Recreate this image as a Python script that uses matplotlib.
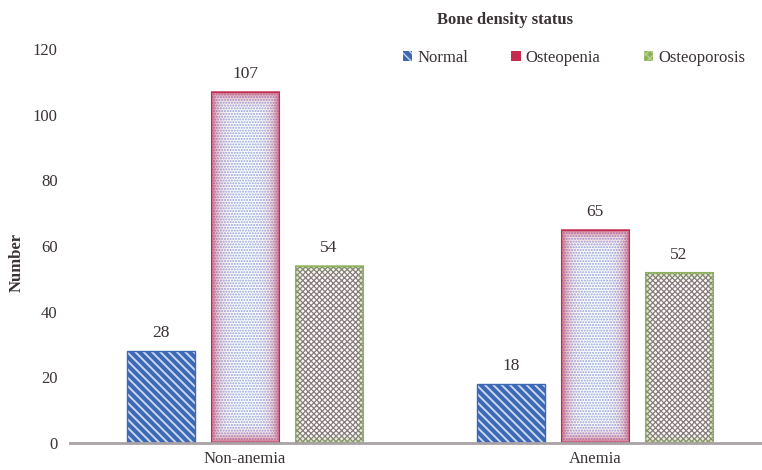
import numpy as np
import matplotlib
matplotlib.use("Agg")
import matplotlib.pyplot as plt
from matplotlib.patches import Patch

plt.rcParams['font.family'] = ['Liberation Serif', 'DejaVu Serif']

# data
groups = ["Non-anemia", "Anemia"]
statuses = ["Normal", "Osteopenia", "Osteoporosis"]
normal = [28, 18]
osteopenia = [107, 65]
osteoporosis = [54, 52]
yticks = [0, 20, 40, 60, 80, 100, 120]

TEXT = '#3a3234'
BLUE = '#3c68b4'
STRIPE = '#c9d7f0'
RED = '#c42c4f'
GREEN = '#8cb257'
DOT = '#8fa6dc'
CROSS = '#877a7d'

W, H, DPI = 762, 470, 100
fig = plt.figure(figsize=(W / DPI, H / DPI), dpi=DPI)
ax_left, ax_right = 70 / W, 770 / W
ax_bot, ax_top = (H - 443) / H, (H - 49) / H
ax = fig.add_axes([ax_left, ax_bot, ax_right - ax_left, ax_top - ax_bot])

x = np.arange(len(groups))
bw = 0.197
step = 0.24
px_per_x = 700 / 2.0
px_per_y = 394 / 120.0


def hatched_bar(ax, xc, h, face, hcolor, hatch, hlw):
    with plt.rc_context({'hatch.linewidth': hlw}):
        bars = ax.bar(xc, h, bw, color=face, edgecolor=hcolor, hatch=hatch,
                      linewidth=0, zorder=2)
    for b in bars:
        if hasattr(b, 'set_hatch_linewidth'):
            b.set_hatch_linewidth(hlw)
    return bars


def edge_glow(ax, x0, width, height, color, fade_px, strength=0.9):
    """Soft coloured rim fading inwards from the bar outline."""
    nx, ny = 120, 240
    wpx = width * px_per_x
    hpx = height * px_per_y
    u = (np.arange(nx) + 0.5) / nx * wpx
    v = (np.arange(ny) + 0.5) / ny * hpx
    dx = np.minimum(u, wpx - u)[None, :]
    dy = np.minimum(v, hpx - v)[:, None]
    d = np.minimum(dx, dy)
    a = strength * np.exp(-d / fade_px)
    rgb = matplotlib.colors.to_rgb(color)
    img = np.zeros((ny, nx, 4))
    img[..., :3] = rgb
    img[..., 3] = a
    ax.imshow(img, extent=[x0, x0 + width, 0, height], aspect='auto',
              interpolation='bilinear', zorder=3, origin='lower')


for i in range(len(groups)):
    # Normal: blue with fine light diagonal stripes
    xn = x[i] - step
    hatched_bar(ax, xn, normal[i], BLUE, STRIPE, '\\\\\\\\', 1.4)
    ax.bar(xn, normal[i], bw, fill=False, edgecolor=BLUE, linewidth=1.0, zorder=4)

    # Osteopenia: white with blue dots and red rim
    xo = x[i]
    hatched_bar(ax, xo, osteopenia[i], 'white', DOT, '......', 1.0)
    edge_glow(ax, xo - bw / 2, bw, osteopenia[i], RED, 6.0, 0.8)
    ax.bar(xo, osteopenia[i], bw, fill=False, edgecolor=RED, linewidth=0.8, zorder=4)

    # Osteoporosis: grey cross-hatch with green rim
    xp = x[i] + step
    hatched_bar(ax, xp, osteoporosis[i], 'white', CROSS, 'xxxxxx', 0.9)
    edge_glow(ax, xp - bw / 2, bw, osteoporosis[i], GREEN, 3.0, 0.8)
    ax.bar(xp, osteoporosis[i], bw, fill=False, edgecolor=GREEN, linewidth=0.8, zorder=4)

    for xx, vv in [(xn, normal[i]), (xo, osteopenia[i]), (xp, osteoporosis[i])]:
        ax.annotate(str(vv), (xx, vv), xytext=(0, 7), textcoords='offset points',
                    ha='center', va='bottom', fontsize=12.5, color=TEXT)

ax.set_xlim(-0.5, 1.5)
ax.set_ylim(0, 120)
ax.set_yticks(yticks)
ax.set_xticks(x)
ax.set_xticklabels(groups)
ax.tick_params(axis='both', length=0, labelsize=12, colors=TEXT)
ax.tick_params(axis='y', pad=9)
ax.tick_params(axis='x', pad=6)
for s in ['top', 'right', 'left']:
    ax.spines[s].set_visible(False)
ax.spines['bottom'].set_color('#a9a2a5')
ax.spines['bottom'].set_linewidth(2.0)
ax.spines['bottom'].set_zorder(5)

fig.text(17 / W, 1 - 262 / H, 'Number', rotation=90, ha='center', va='center',
         fontsize=12, fontweight='bold', color=TEXT)

fig.text(505 / W, 1 - 20 / H, 'Bone density status', ha='center', va='center',
         fontsize=12, fontweight='bold', color=TEXT)

with plt.rc_context({'hatch.linewidth': 1.4}):
    handles = [
        Patch(facecolor=BLUE, edgecolor=STRIPE, hatch='\\\\\\\\', linewidth=0),
        Patch(facecolor=RED, edgecolor=RED, linewidth=0),
        Patch(facecolor=GREEN, edgecolor='#b7cf92', hatch='xxxx', linewidth=0),
    ]
leg = fig.legend(handles, statuses, loc='center', bbox_to_anchor=(574 / W, 1 - 58 / H),
                 ncol=3, frameon=False, fontsize=12, handlelength=0.55, handleheight=0.55,
                 handletextpad=0.3, columnspacing=2.6, labelcolor=TEXT)

fig.savefig('out.png', dpi=DPI)
